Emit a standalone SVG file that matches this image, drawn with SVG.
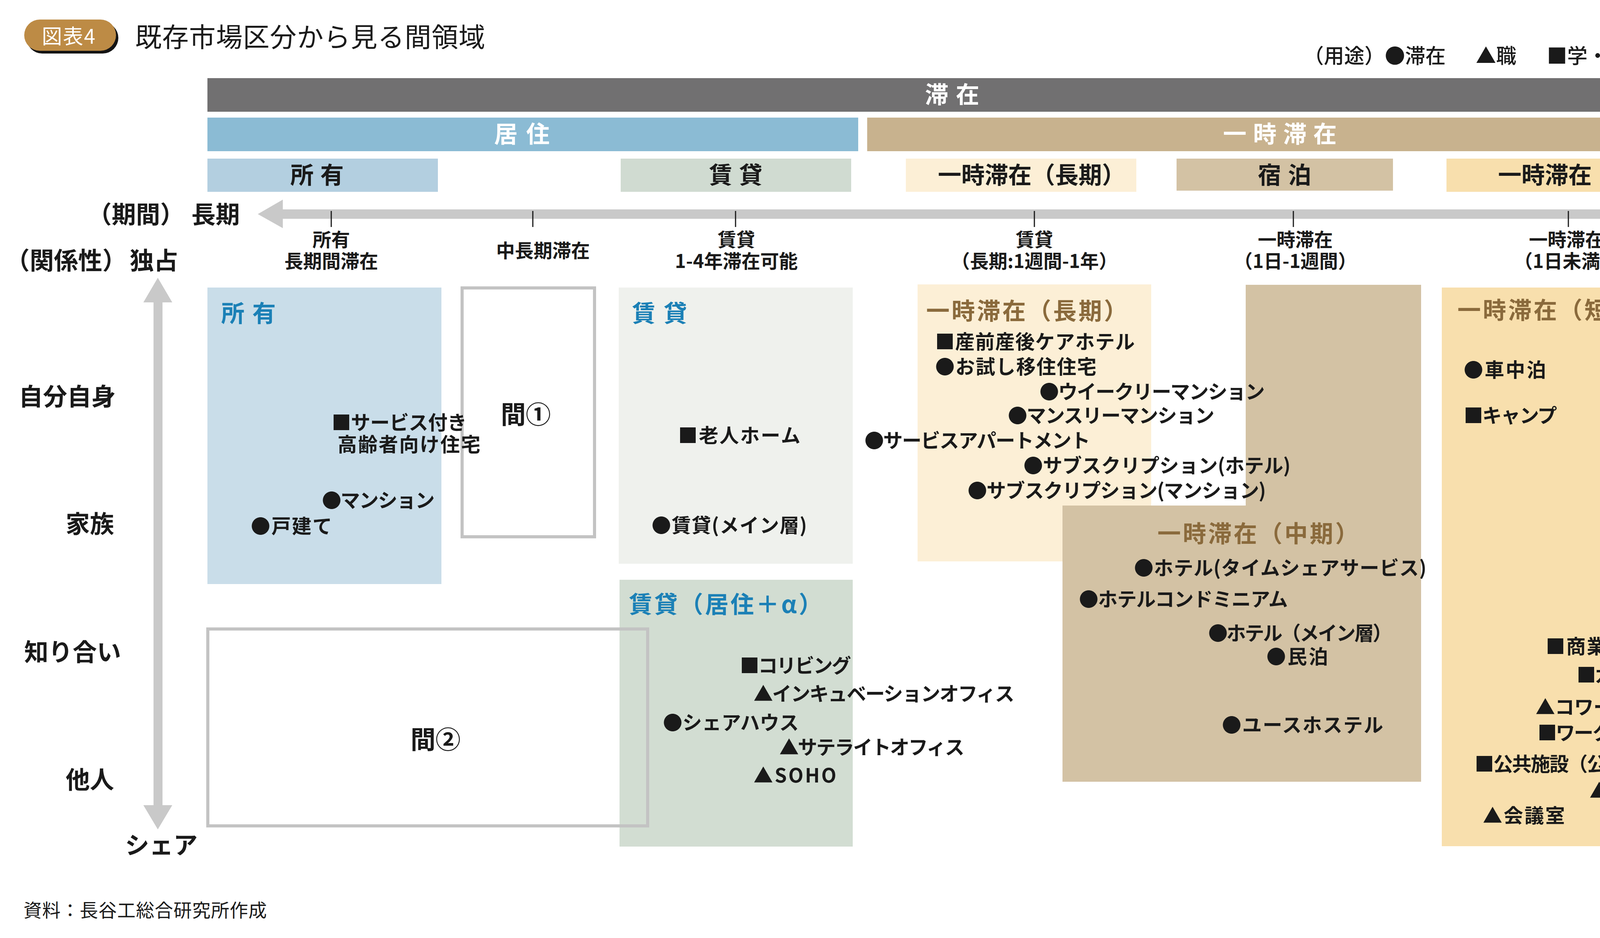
<svg xmlns="http://www.w3.org/2000/svg" width="4431" height="2401" viewBox="0 0 4431 2401">
<defs>
<style>
text{font-family:"Noto Sans CJK JP","Noto Sans CJK SC",sans-serif;fill:#1a1a1a}
.w{fill:#ffffff}
.bl{fill:#1b80b6}
.br{fill:#8a6a3c}
.bold{font-weight:700}
.item{font-size:50px;font-weight:700}
.tick{font-size:48px;font-weight:700;text-anchor:middle}
.axis{font-size:62px;font-weight:700}
.hdr{font-size:60px;font-weight:700}
.mid{text-anchor:middle}
.frame{fill:none;stroke:#c3c3c3;stroke-width:8}
.arrow{fill:#c9c9c9}
.tk{stroke:#1a1a1a;stroke-width:3}
</style>
</defs>
<rect width="4431" height="2401" fill="#ffffff"/>

<g id="title">
<rect x="68" y="57" width="235" height="80" rx="40" fill="#141414"/>
<rect x="62" y="50" width="235" height="80" rx="40" fill="#bd8b45"/>
<text x="107" y="112" class="w" font-size="52" letter-spacing="2">図表4</text>
<text x="346" y="120" font-size="68" letter-spacing="1">既存市場区分から見る間領域</text>
</g>

<g id="legend">
<text x="3337" y="162" font-size="52" font-weight="500">（用途）</text>
<text x="3545" y="162" font-size="52" font-weight="500">●滞在</text>
<text x="3778" y="162" font-size="52" font-weight="500">▲職</text>
<text x="3960" y="162" font-size="52" font-weight="500">■学・それ以外</text>
</g>

<g id="bar-taizai">
<rect x="531" y="200" width="3810" height="86" fill="#717071"/>
<text x="2368" y="264" class="hdr w" letter-spacing="19">滞在</text>
</g>
<g id="bar-kyoju">
<rect x="531" y="301" width="1666" height="86" fill="#8bbbd4"/>
<text x="1265" y="365" class="hdr w" letter-spacing="22">居住</text>
</g>
<g id="bar-ichiji">
<rect x="2220" y="301" width="2121" height="86" fill="#c8b28e"/>
<text x="3131" y="365" class="hdr w" letter-spacing="17">一時滞在</text>
</g>

<g id="cat-shoyu">
<rect x="531" y="406" width="590" height="85" fill="#b3cfe0"/>
<text x="743" y="470" class="hdr" letter-spacing="17">所有</text>
</g>
<g id="cat-chintai">
<rect x="1589" y="406" width="590" height="85" fill="#d0dbd1"/>
<text x="1815" y="470" class="hdr" letter-spacing="17">賃貸</text>
</g>
<g id="cat-choki">
<rect x="2319" y="406" width="590" height="85" fill="#fcefd6"/>
<text x="2401" y="470" class="hdr">一時滞在（長期）</text>
</g>
<g id="cat-shukuhaku">
<rect x="3012" y="406" width="554" height="82" fill="#d3c2a4"/>
<text x="3220" y="470" class="hdr" letter-spacing="17">宿泊</text>
</g>
<g id="cat-tanki">
<rect x="3703" y="406" width="632" height="85" fill="#f8dfad"/>
<text x="3835" y="470" class="hdr">一時滞在（短期）</text>
</g>

<g id="connectors">
<polygon class="arrow" points="660,548 724,511 724,536 4183,536 4183,511 4245,548 4183,584 4183,560 724,560 724,584"/>
<polygon class="arrow" points="404,711 441,774 416,774 416,2061 441,2061 404,2123 367,2061 393,2061 393,774 367,774"/>
<line class="tk" x1="848" y1="540" x2="848" y2="581"/>
<line class="tk" x1="1364" y1="540" x2="1364" y2="581"/>
<line class="tk" x1="1883" y1="540" x2="1883" y2="581"/>
<line class="tk" x1="2648" y1="540" x2="2648" y2="581"/>
<line class="tk" x1="3311" y1="540" x2="3311" y2="581"/>
<line class="tk" x1="4015" y1="540" x2="4015" y2="581"/>
</g>

<g id="axis-labels">
<text x="224" y="572" class="axis">（期間）</text>
<text x="490" y="572" class="axis">長期</text>
<text x="4261" y="572" class="axis">短期</text>
<text x="14" y="690" class="axis">（関係性）</text>
<text x="332" y="690" class="axis">独占</text>
<text x="48" y="1038" class="axis">自分自身</text>
<text x="168" y="1364" class="axis">家族</text>
<text x="62" y="1692" class="axis">知り合い</text>
<text x="168" y="2019" class="axis">他人</text>
<text x="320" y="2186" class="axis">シェア</text>
</g>

<g id="tick-labels">
<text x="848" y="631" class="tick">所有</text>
<text x="848" y="686" class="tick">長期間滞在</text>
<text x="1390" y="659" class="tick">中長期滞在</text>
<text x="1885" y="631" class="tick">賃貸</text>
<text x="1885" y="686" class="tick">1-4年滞在可能</text>
<text x="2648" y="631" class="tick">賃貸</text>
<text x="2648" y="686" class="tick">（長期:1週間-1年）</text>
<text x="3316" y="631" class="tick">一時滞在</text>
<text x="3316" y="686" class="tick">（1日-1週間）</text>
<text x="4010" y="631" class="tick">一時滞在</text>
<text x="4010" y="686" class="tick">（1日未満）</text>
</g>

<g id="region-shoyu">
<rect x="531" y="736" width="599" height="759" fill="#c9dde9"/>
<text x="566" y="824" class="hdr bl" letter-spacing="20">所有</text>
</g>
<g id="region-chintai">
<rect x="1584" y="736" width="599" height="707" fill="#eff1ed"/>
<text x="1618" y="824" class="hdr bl" letter-spacing="21">賃貸</text>
</g>
<g id="region-chintai-alpha">
<rect x="1586" y="1484" width="597" height="683" fill="#d2ddd2"/>
<text x="1610" y="1569" class="hdr bl" letter-spacing="5">賃貸（居住＋α）</text>
</g>
<g id="region-choki">
<rect x="2349" y="728" width="598" height="709" fill="#fcefd6"/>
<text x="2371" y="818" class="hdr br" letter-spacing="5">一時滞在（長期）</text>
</g>
<g id="region-shukuhaku">
<rect x="3189" y="729" width="449" height="566" fill="#d3c2a4"/>
</g>
<g id="region-chuki">
<rect x="2720" y="1294" width="918" height="707" fill="#d3c2a4"/>
<text x="2963" y="1388" class="hdr br" letter-spacing="5">一時滞在（中期）</text>
</g>
<g id="region-tanki">
<rect x="3691" y="736" width="648" height="1430" fill="#f8dfad"/>
<text x="3731" y="816" class="hdr br" letter-spacing="5">一時滞在（短期）</text>
</g>

<g id="gap-1">
<rect x="1183" y="737" width="339" height="637" class="frame"/>
<text x="1346" y="1084" class="mid bold" font-size="64">間①</text>
</g>
<g id="gap-2">
<rect x="532" y="1610" width="1126" height="504" class="frame"/>
<text x="1115" y="1916" class="mid bold" font-size="64">間②</text>
</g>

<g id="items">
<text class="item" x="849" y="1100" textLength="346">■サービス付き</text>
<text class="item" x="864" y="1156" textLength="366">高齢者向け住宅</text>
<text class="item" x="824" y="1299" textLength="289">●マンション</text>
<text class="item" x="642" y="1365" textLength="208">●戸建て</text>
<text class="item" x="1736" y="1133" textLength="313">■老人ホーム</text>
<text class="item" x="1668" y="1363" textLength="398">●賃貸(メイン層)</text>
<text class="item" x="2394" y="893" textLength="511">■産前産後ケアホテル</text>
<text class="item" x="2394" y="957" textLength="413">●お試し移住住宅</text>
<text class="item" x="2661" y="1021" textLength="577">●ウイークリーマンション</text>
<text class="item" x="2580" y="1082" textLength="529">●マンスリーマンション</text>
<text class="item" x="2213" y="1146" textLength="578">●サービスアパートメント</text>
<text class="item" x="2620" y="1210" textLength="684">●サブスクリプション(ホテル)</text>
<text class="item" x="2477" y="1274" textLength="764">●サブスクリプション(マンション)</text>
<text class="item" x="2903" y="1472" textLength="749">●ホテル(タイムシェアサービス)</text>
<text class="item" x="2762" y="1552" textLength="535">●ホテルコンドミニアム</text>
<text class="item" x="3093" y="1639" textLength="471">●ホテル（メイン層）</text>
<text class="item" x="3242" y="1699" textLength="158">●民泊</text>
<text class="item" x="3128" y="1874" textLength="413">●ユースホステル</text>
<text class="item" x="1894" y="1722" textLength="285">■コリビング</text>
<text class="item" x="1929" y="1794" textLength="668">▲インキュベーションオフィス</text>
<text class="item" x="1697" y="1868" textLength="348">●シェアハウス</text>
<text class="item" x="1995" y="1931" textLength="474">▲サテライトオフィス</text>
<text class="item" x="1929" y="2003" textLength="212">▲SOHO</text>
<text class="item" x="3747" y="965" textLength="211">●車中泊</text>
<text class="item" x="3747" y="1082" textLength="239">■キャンプ</text>
<text class="item" x="3957" y="1673" textLength="260">■商業施設</text>
<text class="item" x="4036" y="1746" textLength="187">■カフェ</text>
<text class="item" x="3931" y="1828" textLength="345">▲コワーキング</text>
<text class="item" x="3936" y="1894" textLength="376">■ワークショップ</text>
<text class="item" x="3775" y="1974" textLength="481">■公共施設（公園等）</text>
<text class="item" x="4069" y="2042" textLength="247">▲ラウンジ</text>
<text class="item" x="3796" y="2106" textLength="210">▲会議室</text>
</g>

<g id="source">
<text x="60" y="2347" font-size="47" letter-spacing="1">資料：長谷工総合研究所作成</text>
</g>
</svg>
